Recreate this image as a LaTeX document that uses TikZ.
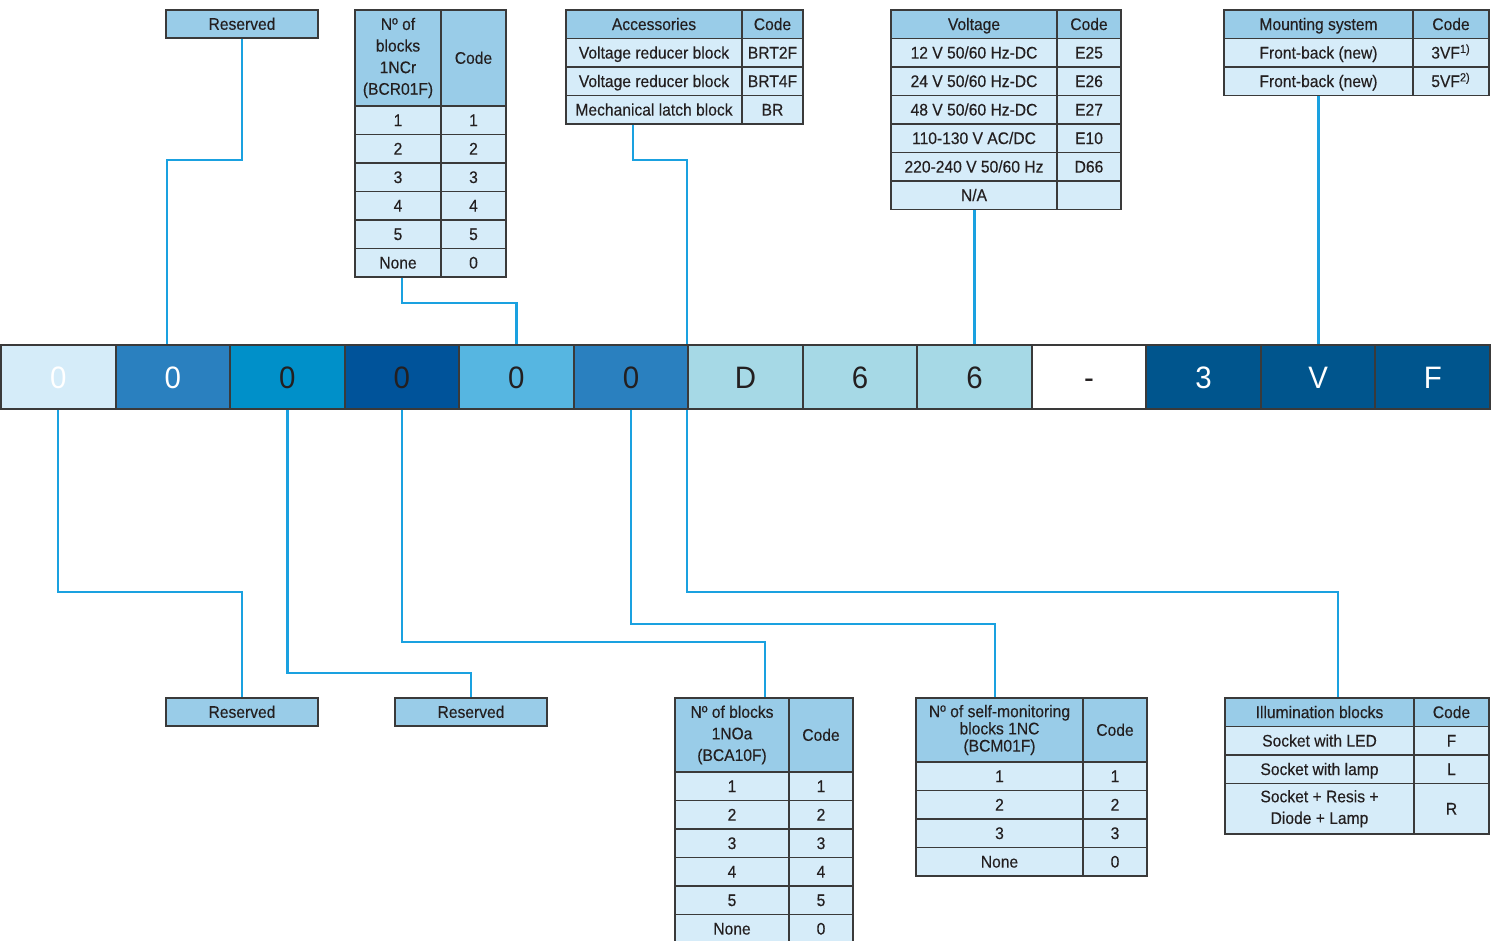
\documentclass[tikz,border=0pt]{standalone}
\usepackage{fontspec}
\setmainfont{Liberation Sans}[FakeStretch=0.93,FakeBold=0.3]
\newfontfamily\barfont{Liberation Sans}[FakeStretch=0.95]
\usetikzlibrary{calc}
\definecolor{hdr}{HTML}{99CCE8}
\definecolor{bdy}{HTML}{D6ECF9}
\definecolor{bord}{HTML}{3A3A3A}
\definecolor{txt}{HTML}{231F20}
\definecolor{lineblue}{HTML}{1AA1E0}
\definecolor{bcA}{HTML}{D5ECF9}
\definecolor{bcB}{HTML}{2A80BF}
\definecolor{bcC}{HTML}{0090C9}
\definecolor{bcD}{HTML}{00539A}
\definecolor{bcE}{HTML}{56B6E1}
\definecolor{bcF}{HTML}{A6D9E6}
\definecolor{bcG}{HTML}{00558D}
\tikzset{
  cell/.style={draw=bord, line width=0.8pt, inner sep=0pt, align=center, text=txt,
    font=\fontsize{8.4}{10.8}\selectfont, text height=5.8pt, text depth=0pt},
  multi/.style={text height={}, text depth={}},
  hcell/.style={cell, fill=hdr},
  dcell/.style={cell, fill=bdy},
  barcell/.style={draw=bord, line width=1pt, text height=11.3pt, text depth=0pt,
    font=\barfont\fontsize{15.5}{18}\selectfont},
  conn/.style={draw=lineblue, line width=1.2pt},
}
\newcommand\boxat[7][]{%
  \pgfmathsetmacro\cellW{((#5)-(#3))*0.5}%
  \pgfmathsetmacro\cellH{((#6)-(#4))*0.5}%
  \node[cell,minimum width=\cellW pt,minimum height=\cellH pt,#1] (#2) at ({((#3)+(#5))/2},{((#4)+(#6))/2}) {#7};}
\begin{document}
\begin{tikzpicture}[x=0.5pt,y=-0.5pt]
\useasboundingbox (0,0) rectangle (1504,941);
% ---------- code bar ----------
\foreach \f/\t/\tc [count=\i] in {bcA/0/white, bcB/0/white, bcC/0/txt, bcD/0/txt, bcE/0/txt, bcB/0/txt, bcF/D/txt, bcF/6/txt, bcF/6/txt, white/-/txt, bcG/3/white, bcG/V/white, bcG/F/white}
  {\boxat[barcell, fill=\f, text=\tc]{bar\i}{1+114.54*(\i-1)}{345}{1+114.54*\i}{409}{\t}}
% ---------- top tables ----------
\boxat[hcell]{resT}{166}{10}{318}{38}{Reserved}
% 1NCr
\boxat[hcell,multi]{ncrH1}{355}{10}{441}{106}{Nº of\\blocks\\1NCr\\(BCR01F)}
\boxat[hcell]{ncrH2}{441}{10}{506}{106}{Code}
\foreach \a/\b [count=\i] in {1/1,2/2,3/3,4/4,5/5,None/0}{
  \boxat[dcell]{ncrA\i}{355}{106+28.5*(\i-1)}{441}{106+28.5*\i}{\a}
  \boxat[dcell]{ncrB\i}{441}{106+28.5*(\i-1)}{506}{106+28.5*\i}{\b}}
% Accessories
\boxat[hcell]{accH1}{566}{10}{742}{38.5}{Accessories}
\boxat[hcell]{accH2}{742}{10}{803}{38.5}{Code}
\boxat[dcell]{accA1}{566}{38.5}{742}{67}{Voltage reducer block}
\boxat[dcell]{accB1}{742}{38.5}{803}{67}{BRT2F}
\boxat[dcell]{accA2}{566}{67}{742}{95.5}{Voltage reducer block}
\boxat[dcell]{accB2}{742}{67}{803}{95.5}{BRT4F}
\boxat[dcell]{accA3}{566}{95.5}{742}{124}{Mechanical latch block}
\boxat[dcell]{accB3}{742}{95.5}{803}{124}{BR}
% Voltage
\boxat[hcell]{volH1}{891}{10}{1057}{38.5}{Voltage}
\boxat[hcell]{volH2}{1057}{10}{1121}{38.5}{Code}
\boxat[dcell]{volA1}{891}{38.5}{1057}{67}{12 V 50/60 Hz-DC}
\boxat[dcell]{volB1}{1057}{38.5}{1121}{67}{E25}
\boxat[dcell]{volA2}{891}{67}{1057}{95.5}{24 V 50/60 Hz-DC}
\boxat[dcell]{volB2}{1057}{67}{1121}{95.5}{E26}
\boxat[dcell]{volA3}{891}{95.5}{1057}{124}{48 V 50/60 Hz-DC}
\boxat[dcell]{volB3}{1057}{95.5}{1121}{124}{E27}
\boxat[dcell]{volA4}{891}{124}{1057}{152.5}{110-130 V AC/DC}
\boxat[dcell]{volB4}{1057}{124}{1121}{152.5}{E10}
\boxat[dcell]{volA5}{891}{152.5}{1057}{181}{220-240 V 50/60 Hz}
\boxat[dcell]{volB5}{1057}{152.5}{1121}{181}{D66}
\boxat[dcell]{volA6}{891}{181}{1057}{209.5}{N/A}
\boxat[dcell]{volB6}{1057}{181}{1121}{209.5}{}
% Mounting
\boxat[hcell]{mntH1}{1224}{10}{1413}{38.5}{Mounting system}
\boxat[hcell]{mntH2}{1413}{10}{1489}{38.5}{Code}
\boxat[dcell]{mntA1}{1224}{38.5}{1413}{67}{Front-back (new)}
\boxat[dcell]{mntB1}{1413}{38.5}{1489}{67}{3VF\textsuperscript{1)}}
\boxat[dcell]{mntA2}{1224}{67}{1413}{95.5}{Front-back (new)}
\boxat[dcell]{mntB2}{1413}{67}{1489}{95.5}{5VF\textsuperscript{2)}}
% ---------- bottom tables ----------
\boxat[hcell]{resB1}{166}{698}{318}{726}{Reserved}
\boxat[hcell]{resB2}{395}{698}{547}{726}{Reserved}
% 1NOa
\boxat[hcell,multi]{noaH1}{675}{698}{789}{772}{Nº of blocks\\1NOa\\(BCA10F)}
\boxat[hcell]{noaH2}{789}{698}{853}{772}{Code}
\foreach \a/\b [count=\i] in {1/1,2/2,3/3,4/4,5/5,None/0}{
  \boxat[dcell]{noaA\i}{675}{772+28.5*(\i-1)}{789}{772+28.5*\i}{\a}
  \boxat[dcell]{noaB\i}{789}{772+28.5*(\i-1)}{853}{772+28.5*\i}{\b}}
% self-monitoring
\boxat[hcell, multi, font=\fontsize{8.4}{8.6}\selectfont]{smH1}{916}{698}{1083}{762}{Nº of self-monitoring\\blocks 1NC\\(BCM01F)}
\boxat[hcell]{smH2}{1083}{698}{1147}{762}{Code}
\foreach \a/\b [count=\i] in {1/1,2/2,3/3,None/0}{
  \boxat[dcell]{smA\i}{916}{762+28.5*(\i-1)}{1083}{762+28.5*\i}{\a}
  \boxat[dcell]{smB\i}{1083}{762+28.5*(\i-1)}{1147}{762+28.5*\i}{\b}}
% Illumination
\boxat[hcell]{illH1}{1225}{698}{1414}{726.5}{Illumination blocks}
\boxat[hcell]{illH2}{1414}{698}{1489}{726.5}{Code}
\boxat[dcell]{illA1}{1225}{726.5}{1414}{755}{Socket with LED}
\boxat[dcell]{illB1}{1414}{726.5}{1489}{755}{F}
\boxat[dcell]{illA2}{1225}{755}{1414}{783.5}{Socket with lamp}
\boxat[dcell]{illB2}{1414}{755}{1489}{783.5}{L}
\boxat[dcell,multi]{illA3}{1225}{783.5}{1414}{834}{Socket + Resis +\\Diode + Lamp}
\boxat[dcell]{illB3}{1414}{783.5}{1489}{834}{R}
% ---------- connectors ----------
\coordinate (k1) at (167,160);
\coordinate (k2) at (402,303);
\coordinate (k3) at (633,160);
\coordinate (k6) at (242,592);
\coordinate (k7) at (471,673);
\coordinate (k8) at (765,642);
\coordinate (k9) at (995,624);
\coordinate (k10) at (1338,592);
\draw[conn] (resT.south) |- (k1) -- (k1 |- bar2.north);
\draw[conn] (k2 |- ncrA6.south) -- (k2) -| (bar5.north);
\draw[conn] (k3 |- accA3.south) -- (k3) -| (bar7.north west);
\draw[conn] (bar9.north |- volA6.south) -- (bar9.north);
\draw[conn] (mntA2.south) -- (mntA2.south |- bar12.north);
\draw[conn] (bar1.south) |- (k6) -- (resB1.north);
\draw[conn] (bar3.south) |- (k7) -- (resB2.north);
\draw[conn] (bar4.south) |- (k8) -- (k8 |- noaH1.north);
\draw[conn] (bar6.south) |- (k9) -- (k9 |- smH1.north);
\draw[conn] (bar7.south west) |- (k10) -- (k10 |- illH1.north);
\end{tikzpicture}
\end{document}
